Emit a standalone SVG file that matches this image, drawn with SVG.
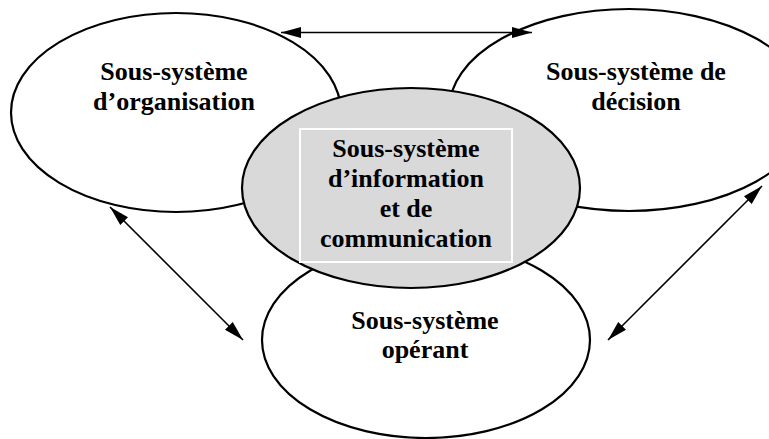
<svg xmlns="http://www.w3.org/2000/svg" width="769" height="439" viewBox="0 0 769 439">
  <style>
    .ell { fill: #ffffff; stroke: #000000; stroke-width: 2.2; }
    .gray { fill: #d9d9d9; stroke: #000000; stroke-width: 2.2; }
    .box { fill: #d9d9d9; stroke: #ffffff; stroke-width: 2; }
    .lbl { font-family: "Liberation Serif", "Times New Roman", serif; font-weight: bold; font-size: 26px; fill: #000000; text-anchor: middle; }
    .conn { stroke: #000000; stroke-width: 1.6; fill: none; marker-start: url(#arr); marker-end: url(#arr); }
  </style>
  <defs>
    <marker id="arr" markerUnits="userSpaceOnUse" markerWidth="21" markerHeight="12" refX="20" refY="6" orient="auto-start-reverse" viewBox="0 0 21 12">
      <path d="M0,0.5 L20,6 L0,11.5 Z" fill="#000000"/>
    </marker>
  </defs>
  <rect width="769" height="439" fill="#ffffff"/>

  <g id="organisation">
    <ellipse class="ell" cx="176" cy="112.5" rx="165" ry="99.5"/>
    <text class="lbl" x="174" y="80">Sous-système</text>
    <text class="lbl" x="174" y="110">d’organisation</text>
  </g>

  <g id="decision">
    <ellipse class="ell" cx="629" cy="110" rx="180" ry="101"/>
    <text class="lbl" x="636" y="80">Sous-système de</text>
    <text class="lbl" x="636" y="110">décision</text>
  </g>

  <g id="operant">
    <ellipse class="ell" cx="426" cy="340" rx="164" ry="98"/>
    <text class="lbl" x="425" y="329">Sous-système</text>
    <text class="lbl" x="425" y="358">opérant</text>
  </g>

  <g id="information">
    <ellipse class="gray" cx="411" cy="188" rx="169" ry="100"/>
    <rect class="box" x="300" y="129" width="212" height="133"/>
    <text class="lbl" x="406" y="157">Sous-système</text>
    <text class="lbl" x="406" y="187">d’information</text>
    <text class="lbl" x="406" y="217">et de</text>
    <text class="lbl" x="406" y="247">communication</text>
  </g>

  <g id="connectors">
    <line class="conn" x1="281" y1="32.5" x2="532" y2="32.5"/>
    <line class="conn" x1="110" y1="207" x2="243" y2="340"/>
    <line class="conn" x1="762" y1="186" x2="608" y2="340"/>
  </g>
</svg>
